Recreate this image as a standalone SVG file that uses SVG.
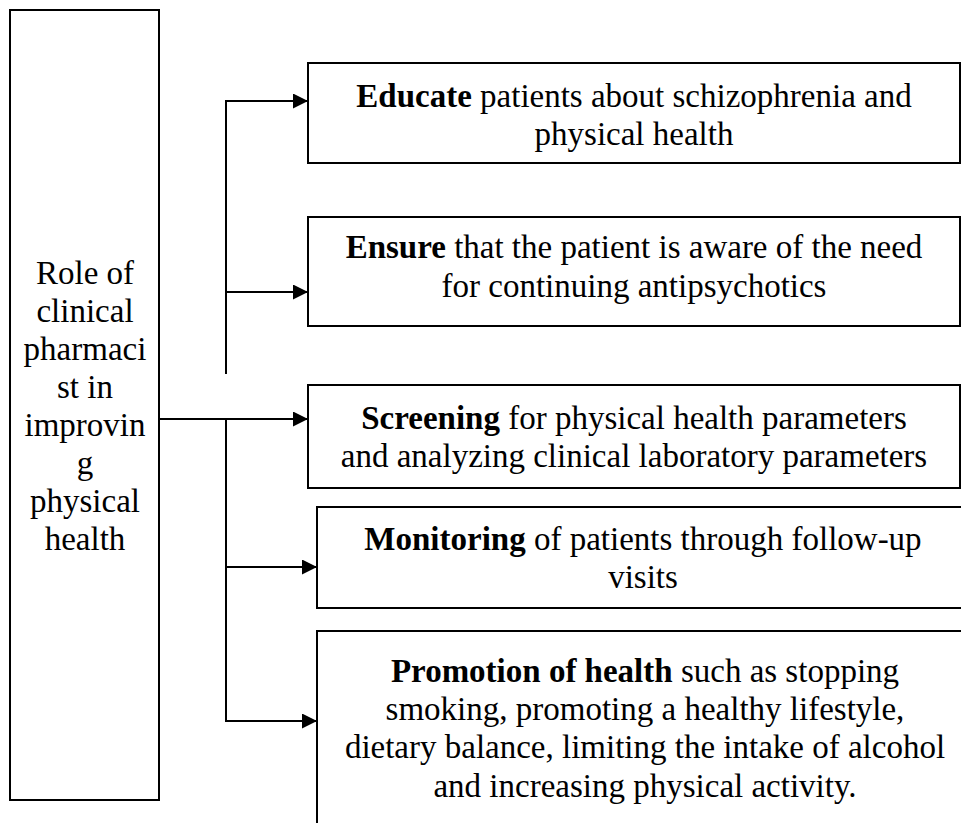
<svg xmlns="http://www.w3.org/2000/svg" width="961" height="823" viewBox="0 0 961 823">
<style>
.box{fill:#fff;stroke:#000;stroke-width:2}
.t{font-family:"Liberation Serif","Times New Roman",serif;font-size:33px;fill:#000;text-anchor:middle}
.b{font-weight:bold}
.c{fill:none;stroke:#000;stroke-width:2}
</style>
<defs>
<marker id="ah" markerUnits="userSpaceOnUse" markerWidth="16" markerHeight="16" refX="15" refY="7.5" orient="auto">
<path d="M0,0 L15,7.5 L0,15 Z" fill="#000"/>
</marker>
</defs>
<rect width="961" height="823" fill="#fff"/>
<g id="root">
<rect class="box" x="10" y="10" width="149" height="790"/>
<text class="t" x="85" y="284">Role of</text>
<text class="t" x="85" y="322">clinical</text>
<text class="t" x="85" y="360">pharmaci</text>
<text class="t" x="85" y="398">st in</text>
<text class="t" x="85" y="436">improvin</text>
<text class="t" x="85" y="474">g</text>
<text class="t" x="85" y="512">physical</text>
<text class="t" x="85" y="550">health</text>
</g>
<g id="educate">
<rect class="box" x="308" y="63" width="652" height="100"/>
<text class="t" x="634" y="107"><tspan class="b">Educate</tspan> patients about schizophrenia and</text>
<text class="t" x="634" y="145">physical health</text>
</g>
<g id="ensure">
<rect class="box" x="308" y="217" width="652" height="109"/>
<text class="t" x="634" y="258"><tspan class="b">Ensure</tspan> that the patient is aware of the need</text>
<text class="t" x="634" y="297">for continuing antipsychotics</text>
</g>
<g id="screening">
<rect class="box" x="308" y="385" width="652" height="103"/>
<text class="t" x="634" y="429"><tspan class="b">Screening</tspan> for physical health parameters</text>
<text class="t" x="634" y="467">and analyzing clinical laboratory parameters</text>
</g>
<g id="monitoring">
<rect class="box" x="317" y="507" width="655" height="101"/>
<text class="t" x="643" y="550"><tspan class="b">Monitoring</tspan> of patients through follow-up</text>
<text class="t" x="643" y="588">visits</text>
</g>
<g id="promotion">
<rect class="box" x="317" y="631" width="655" height="210"/>
<text class="t" x="645" y="682"><tspan class="b">Promotion of health</tspan> such as stopping</text>
<text class="t" x="645" y="720">smoking, promoting a healthy lifestyle,</text>
<text class="t" x="645" y="758">dietary balance, limiting the intake of alcohol</text>
<text class="t" x="645" y="797">and increasing physical activity.</text>
</g>
<g id="connectors">
<path class="c" d="M226,374 V101 H308" marker-end="url(#ah)"/>
<path class="c" d="M226,292 H308" marker-end="url(#ah)"/>
<path class="c" d="M159,419 H308" marker-end="url(#ah)"/>
<path class="c" d="M226,419 V721 H317" marker-end="url(#ah)"/>
<path class="c" d="M226,567 H317" marker-end="url(#ah)"/>
</g>
</svg>
